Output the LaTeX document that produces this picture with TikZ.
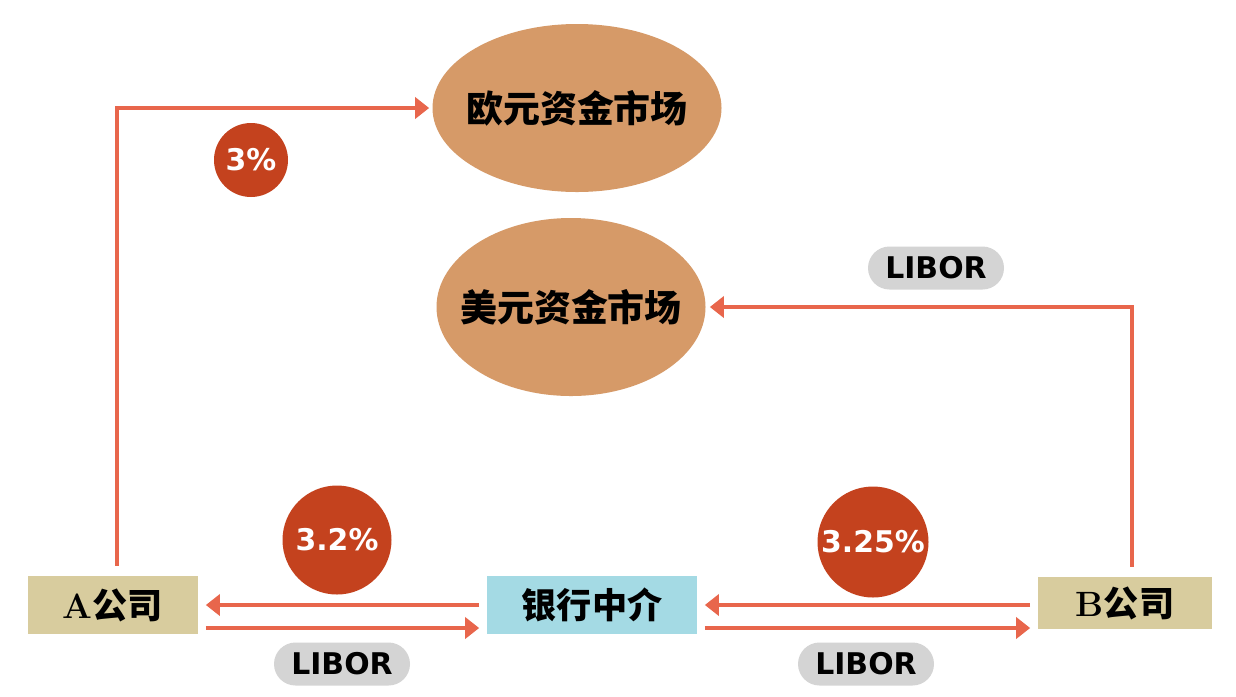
\documentclass[tikz,border=0pt]{standalone}
\usepackage{fontspec}
\newfontfamily\cjk{Noto Sans CJK SC}
\newfontfamily\ratefont{DejaVu Sans}
\usetikzlibrary{arrows.meta,shapes.geometric}

\definecolor{arrowc}{RGB}{232,102,76}
\definecolor{ratec}{RGB}{196,66,30}
\definecolor{marketc}{RGB}{214,154,104}
\definecolor{companyc}{RGB}{216,204,158}
\definecolor{brokerc}{RGB}{164,218,228}
\definecolor{pillc}{RGB}{212,212,212}

\tikzset{
  flow/.style={draw=arrowc, line width=2.6pt, -{Triangle[length=8pt,width=12pt]}, shorten <=1.5mm, shorten >=1.5mm},
  market/.style={ellipse, fill=marketc, inner xsep=-5mm, inner ysep=0pt, font=\cjk\bfseries\fontsize{21}{24}\selectfont},
  box/.style={rectangle, minimum height=11.6mm, inner sep=0pt, font=\cjk\bfseries\fontsize{20}{24}\selectfont},
  rate/.style={circle, fill=ratec, text=white, inner sep=0pt, font=\ratefont\bfseries\fontsize{17}{20}\selectfont},
  libor/.style={rectangle, rounded corners=4.3mm, fill=pillc, minimum width=27.2mm, minimum height=8.6mm, font=\ratefont\bfseries\fontsize{17}{20}\selectfont}
}

\begin{document}
\begin{tikzpicture}[x=0.2mm,y=-0.2mm]
        % page size of the reference, in pixels
        \path[fill=white, use as bounding box] (0,0) rectangle (1236,696);

        % the two money markets
        \node[market, minimum width=57.8mm, minimum height=33.6mm] (eur) at (577,108) {欧元资金市场};
        \node[market, minimum width=53.8mm, minimum height=35.6mm] (usd) at (571,307) {美元资金市场};

        % the two companies and the bank in between
        \node[box, fill=companyc, minimum width=34mm] (A) at (113,605) {\textrm{A}公司};
        \node[box, fill=brokerc, minimum width=42mm] (bank) at (592,605) {银行中介};
        \node[box, fill=companyc, minimum width=34.8mm, minimum height=10.4mm] (B) at (1125,603) {\textrm{B}公司};

        % A borrows euros, B borrows dollars
        \draw[flow, shorten <=2mm, shorten >=0.6mm] ([xshift=0.8mm]A.north) |- (eur.west);
        \draw[flow, shorten <=2mm, shorten >=0.8mm] ([xshift=1.4mm]B.north) |- (usd.east);

        % swap payments through the bank
        \draw[flow] (bank.west) -- (A.east |- bank.west);
        \draw[flow] ([yshift=-4.6mm]A.east) -- ([yshift=-4.6mm]bank.west);
        \draw[flow] (B.west |- bank.east) -- (bank.east);
        \draw[flow] ([yshift=-4.6mm]bank.east) -- ([yshift=-4.6mm]bank.east -| B.west);

        % rates
        \node[rate, minimum size=14.8mm] (r3) at (251,160) {3\%};
        \node[rate, minimum size=21.8mm] (r32) at (337,540) {3.2\%};
        \node[rate, minimum size=22.2mm] (r325) at (873,542) {3.25\%};

        \node[libor] (lB) at (936,268) {LIBOR};
        \node[libor] (lA) at (342,664) {LIBOR};
        \node[libor] (lbank) at (866,664) {LIBOR};

    \end{tikzpicture}
\end{document}
